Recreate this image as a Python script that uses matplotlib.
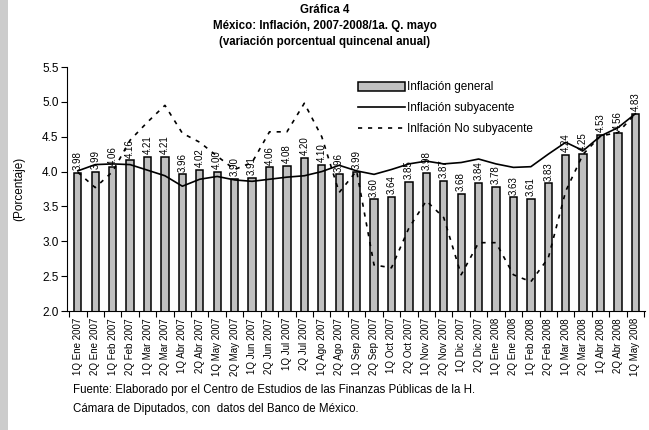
import matplotlib
matplotlib.use("Agg")
import matplotlib.pyplot as plt
import numpy as np
from matplotlib.patches import Rectangle

plt.rcParams['font.family'] = ['Liberation Sans', 'DejaVu Sans']

categories = ["1Q Ene 2007", "2Q Ene 2007", "1Q Feb 2007", "2Q Feb 2007", "1Q Mar 2007",
              "2Q Mar 2007", "1Q Abr 2007", "2Q Abr 2007", "1Q May 2007", "2Q May 2007",
              "1Q Jun 2007", "2Q Jun 2007", "1Q Jul 2007", "2Q Jul 2007", "1Q Ago 2007",
              "2Q Ago 2007", "1Q Sep 2007", "2Q Sep 2007", "1Q Oct 2007", "2Q Oct 2007",
              "1Q Nov 2007", "2Q Nov 2007", "1Q Dic 2007", "2Q Dic 2007", "1Q Ene 2008",
              "2Q Ene 2008", "1Q Feb 2008", "2Q Feb 2008", "1Q Mar 2008", "2Q Mar 2008",
              "1Q Abr 2008", "2Q Abr 2008", "1Q May 2008"]

general = [3.98, 3.99, 4.06, 4.16, 4.21, 4.21, 3.96, 4.02, 4.00, 3.90,
           3.91, 4.06, 4.08, 4.20, 4.10, 3.96, 3.99, 3.60, 3.64, 3.85,
           3.98, 3.87, 3.68, 3.84, 3.78, 3.63, 3.61, 3.83, 4.24, 4.25,
           4.53, 4.56, 4.83]

subyacente = [4.01, 4.10, 4.11, 4.10, 4.02, 3.94, 3.79, 3.89, 3.93, 3.88,
              3.86, 3.89, 3.92, 3.94, 4.00, 4.09, 4.01, 3.96, 4.03, 4.11,
              4.15, 4.11, 4.13, 4.18, 4.11, 4.06, 4.07, 4.25, 4.42, 4.30,
              4.51, 4.63, 4.83]

no_subyacente = [3.99, 3.77, 4.00, 4.45, 4.71, 4.95, 4.55, 4.42, 4.22, 4.03,
                 4.13, 4.57, 4.57, 4.98, 4.50, 3.70, 4.01, 2.66, 2.62, 3.19,
                 3.58, 3.34, 2.52, 2.98, 2.98, 2.52, 2.42, 2.76, 3.72, 4.25,
                 4.51, 4.56, 4.83]

title = "Gráfica 4\nMéxico: Inflación, 2007-2008/1a. Q. mayo\n(variación porcentual quincenal anual)"
legend_labels = ["Inflación general", "Inflación subyacente", "Inlfación No subyacente"]
source = ("Fuente: Elaborado por el Centro de Estudios de las Finanzas Públicas de la H.\n"
          "Cámara de Diputados, con  datos del Banco de México.")

fig = plt.figure(figsize=(6.49, 4.30), dpi=100)
fig.patches.append(Rectangle((0, 0), 8 / 649, 1, transform=fig.transFigure,
                             facecolor="#cccccc", edgecolor="none", zorder=0))

ax = fig.add_axes([67 / 649, 1 - 311 / 430, (645 - 67) / 649, (311 - 67) / 430])
x = np.arange(len(categories))

bars = ax.bar(x, general, width=0.42, color="#c0c0c0", edgecolor="black",
              linewidth=1.1, label=legend_labels[0], zorder=2)
l1, = ax.plot(x, subyacente, color="black", linewidth=1.2, label=legend_labels[1], zorder=3)
l2, = ax.plot(x, no_subyacente, color="black", linewidth=1.2, linestyle=(0, (2.5, 3.5)),
              label=legend_labels[2], zorder=3)

for xi, v in zip(x, general):
    ax.annotate(f"{v:.2f}", (xi, v), xytext=(0, 2), textcoords="offset points",
                rotation=90, ha="center", va="bottom", fontsize=7.0, zorder=4)

ax.set_ylim(2.0, 5.5)
ax.set_xlim(-0.62, len(categories) - 0.45)
ax.set_yticks(np.arange(2.0, 5.51, 0.5))
ax.set_yticklabels([f"{t:.1f}" for t in np.arange(2.0, 5.51, 0.5)], fontsize=8.5)
ax.set_xticks(x)
ax.set_xticklabels(categories, rotation=90, fontsize=7.0)
ax.tick_params(axis="x", which="major", length=0, pad=5)
ax.set_xticks(np.arange(-0.5, len(categories), 1.0), minor=True)
ax.tick_params(axis="x", which="minor", length=4, width=0.8, direction="out")
ax.tick_params(axis="y", length=4, width=0.8, direction="out", pad=2)
for s in ["top", "right"]:
    ax.spines[s].set_visible(False)
for s in ["left", "bottom"]:
    ax.spines[s].set_linewidth(0.8)

ax.set_ylabel("(Porcentaje)", fontsize=8.5, labelpad=12)

leg = ax.legend([bars, l1, l2], legend_labels, loc="upper left",
                bbox_to_anchor=(0.495, 0.96), frameon=False,
                fontsize=8.5, handlelength=4.0, handleheight=0.9, handletextpad=0.15,
                labelspacing=0.75, borderaxespad=0)

fig.text(0.5, 0.99, title, ha="center", va="top", fontsize=8.3, fontweight="bold",
         linespacing=1.45)
fig.text(73 / 649, 1 - 384 / 430, source, ha="left", va="top", fontsize=8.3, linespacing=1.8)

fig.savefig("out.png", dpi=100)
